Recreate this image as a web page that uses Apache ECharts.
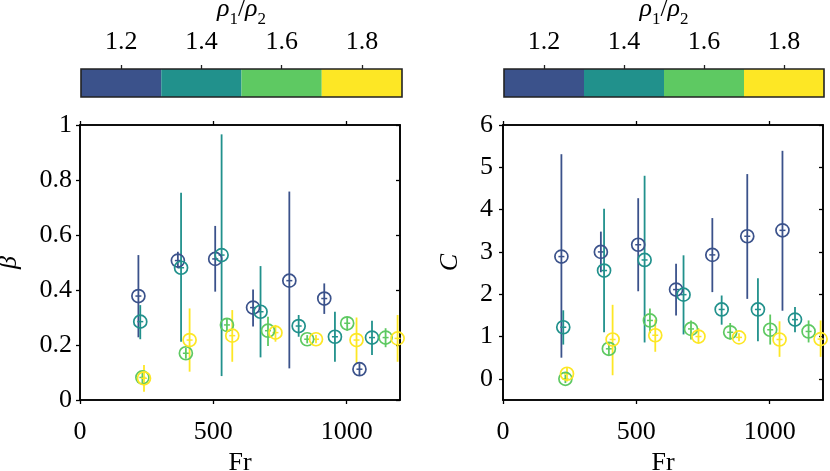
<!DOCTYPE html>
<html>
<head>
<meta charset="utf-8">
<script src="https://cdn.jsdelivr.net/npm/echarts@6/dist/echarts.min.js"></script>
<style>html,body{margin:0;padding:0;background:#fff}#c{width:830px;height:471px}</style>
</head>
<body>
<div id="c"></div>
<script>
// density-ratio bins of the colour bar
const ratioBins = [1.1, 1.3, 1.5, 1.7, 1.9];
const ratioTicks = [1.2, 1.4, 1.6, 1.8];

// Froude numbers per density-ratio group
const frG1 = [219, 367, 507, 649, 785, 916, 1048];
const frG2 = [226, 379, 531, 677, 820, 956, 1095];
const frG3 = [234, 397, 551, 705, 852, 1002, 1146];
const frG4 = [240, 411, 571, 733, 885, 1037, 1191];

// beta (left panel)
const betaG1   = [0.378, 0.507, 0.513, 0.336, 0.434, 0.369, 0.112];
const betaG1Lo = [0.228, 0.479, 0.394, 0.267, 0.115, 0.313, 0.088];
const betaG1Hi = [0.527, 0.539, 0.633, 0.402, 0.758, 0.424, 0.134];
const betaG2   = [0.285, 0.481, 0.527, 0.321, 0.269, 0.230, 0.227];
const betaG2Lo = [0.221, 0.212, 0.087, 0.155, 0.230, 0.139, 0.164];
const betaG2Hi = [0.345, 0.754, 0.966, 0.487, 0.309, 0.321, 0.288];
const betaG3   = [0.082, 0.170, 0.273, 0.252, 0.221, 0.279, 0.227];
const betaG3Lo = [0.060, 0.150, 0.248, 0.196, 0.206, 0.252, 0.192];
const betaG3Hi = [0.100, 0.190, 0.297, 0.303, 0.236, 0.303, 0.261];
const betaG4   = [0.079, 0.218, 0.234, 0.245, 0.221, 0.218, 0.224];
const betaG4Lo = [0.030, 0.103, 0.139, 0.212, 0.206, 0.131, 0.139];
const betaG4Hi = [0.127, 0.333, 0.327, 0.273, 0.236, 0.300, 0.309];

// C (right panel)
const cG1   = [2.89, 3.00, 3.17, 2.11, 2.93, 3.37, 3.51];
const cG1Lo = [0.50, 2.52, 2.07, 1.50, 2.05, 1.89, 1.61];
const cG1Hi = [5.31, 3.48, 4.27, 2.72, 3.80, 4.84, 5.39];
const cG2   = [1.22, 2.56, 2.81, 1.99, 1.64, 1.64, 1.40];
const cG2Lo = [0.81, 1.10, 0.86, 1.05, 1.28, 0.89, 1.10];
const cG2Hi = [1.62, 4.02, 4.80, 2.92, 1.97, 2.38, 1.70];
const cG3   = [0.00, 0.71, 1.38, 1.18, 1.10, 1.16, 1.12];
const cG3Lo = [-0.10, 0.55, 1.08, 0.93, 0.93, 0.81, 0.86];
const cG3Hi = [0.10, 0.87, 1.66, 1.38, 1.32, 1.52, 1.38];
const cG4   = [0.12, 0.93, 1.03, 1.00, 0.98, 0.93, 0.94];
const cG4Lo = [-0.06, 0.085, 0.64, 0.85, 0.89, 0.52, 0.52];
const cG4Hi = [0.28, 1.75, 1.40, 1.20, 1.08, 1.36, 1.38];

const frMax = 1200;
const frTicks = [0, 500, 1000];
const betaTicks = [0, 0.2, 0.4, 0.6, 0.8, 1];
const cTicks = [0, 1, 2, 3, 4, 5, 6];

const colors = ['#3b528b', '#21918c', '#5ec962', '#fde725'];
const FONT = 'Liberation Serif';
const FS = 26;

const frGroups = [frG1, frG2, frG3, frG4];
const betaGroups = [[betaG1, betaG1Lo, betaG1Hi], [betaG2, betaG2Lo, betaG2Hi], [betaG3, betaG3Lo, betaG3Hi], [betaG4, betaG4Lo, betaG4Hi]];
const cGroups = [[cG1, cG1Lo, cG1Hi], [cG2, cG2Lo, cG2Hi], [cG3, cG3Lo, cG3Hi], [cG4, cG4Lo, cG4Hi]];

function errRender(color) {
  return function (params, api) {
    const x = api.value(0), y = api.value(1), lo = api.value(2), hi = api.value(3);
    const a = api.coord([x, lo]), b = api.coord([x, hi]), c = api.coord([x, y]);
    return {
      type: 'group',
      children: [
        { type: 'line', shape: { x1: a[0], y1: a[1], x2: b[0], y2: b[1] }, style: { stroke: color, lineWidth: 1.8 } },
        { type: 'line', shape: { x1: c[0] - 3, y1: c[1], x2: c[0] + 3, y2: c[1] }, style: { stroke: color, lineWidth: 1.5 } }
      ]
    };
  };
}

const series = [];
function addPanel(groups, xi, yi) {
  groups.forEach(function (g, k) {
    const fr = frGroups[k];
    const data = fr.map(function (x, i) { return [x, g[0][i], g[1][i], g[2][i]]; });
    series.push({
      type: 'custom', xAxisIndex: xi, yAxisIndex: yi, renderItem: errRender(colors[k]),
      encode: { x: 0, y: [1, 2, 3] }, data: data, silent: true, z: 2
    });
    series.push({
      type: 'scatter', xAxisIndex: xi, yAxisIndex: yi, symbol: 'circle', symbolSize: 13,
      itemStyle: { color: 'rgba(0,0,0,0)', borderColor: colors[k], borderWidth: 1.7, opacity: 1 },
      data: data.map(function (d) { return [d[0], d[1]]; }), silent: true, z: 3
    });
  });
}
addPanel(betaGroups, 0, 0);
addPanel(cGroups, 2, 2);

function addColorbar(xi, yi) {
  const bins = [];
  for (let i = 0; i < ratioBins.length - 1; i++) bins.push([ratioBins[i], ratioBins[i + 1], i]);
  series.push({
    type: 'custom', xAxisIndex: xi, yAxisIndex: yi, silent: true, z: 2,
    encode: { x: [0, 1] }, data: bins,
    renderItem: function (params, api) {
      const p0 = api.coord([api.value(0), 1]), p1 = api.coord([api.value(1), 0]);
      return { type: 'rect', shape: { x: p0[0], y: p0[1], width: p1[0] - p0[0], height: p1[1] - p0[1] }, style: { fill: colors[api.value(2)] } };
    }
  });
  series.push({
    type: 'custom', xAxisIndex: xi, yAxisIndex: yi, silent: true, z: 3,
    encode: { x: [0, 1] }, data: [[ratioBins[0], ratioBins[ratioBins.length - 1]]],
    renderItem: function (params, api) {
      const p0 = api.coord([api.value(0), 1]), p1 = api.coord([api.value(1), 0]);
      return { type: 'rect', shape: { x: p0[0], y: p0[1], width: p1[0] - p0[0], height: p1[1] - p0[1] }, style: { fill: 'none', stroke: '#222', lineWidth: 1.6 } };
    }
  });
}
addColorbar(4, 4);
addColorbar(5, 5);

const axLine = { show: true, onZero: false, lineStyle: { color: '#000', width: 1.6 } };
const tickStyle = { color: '#000', width: 1.3 };
const lab = { color: '#000', fontFamily: FONT, fontSize: FS };
const ratioName = '{i|ρ}{s|1}{n|/}{i|ρ}{s|2}';
const ratioRich = {
  i: { fontFamily: FONT, fontStyle: 'italic', fontSize: FS, color: '#000' },
  n: { fontFamily: FONT, fontSize: FS, color: '#000' },
  s: { fontFamily: FONT, fontSize: 17, color: '#000', verticalAlign: 'bottom', padding: [0, 0, -6, 0] }
};

function frAxis(grid) {
  return [{
    type: 'value', gridIndex: grid, min: 0, max: frMax, position: 'bottom',
    axisLine: axLine, axisTick: { show: true, length: 4, customValues: frTicks, lineStyle: tickStyle },
    splitLine: { show: false }, axisLabel: Object.assign({ margin: 19, customValues: frTicks, formatter: function (v) { return String(v); } }, lab),
    name: 'Fr', nameLocation: 'middle', nameGap: 49, nameTextStyle: { fontFamily: FONT, fontSize: FS, color: '#000' }
  }, {
    type: 'value', gridIndex: grid, min: 0, max: frMax, position: 'top',
    axisLine: axLine, axisTick: { show: true, length: 4, customValues: frTicks, lineStyle: tickStyle },
    splitLine: { show: false }, axisLabel: { show: false }
  }];
}
function cbAxis(grid) {
  return {
    type: 'value', gridIndex: grid, min: ratioBins[0], max: ratioBins[ratioBins.length - 1], position: 'top',
    axisLine: { show: false, onZero: false },
    axisTick: { show: true, length: 4, customValues: ratioTicks, lineStyle: { color: '#222', width: 1.3 } },
    splitLine: { show: false },
    axisLabel: Object.assign({ margin: 14, customValues: ratioTicks, formatter: function (v) { return v.toFixed(1); } }, lab),
    name: ratioName, nameLocation: 'middle', nameGap: 47, nameTextStyle: { rich: ratioRich }
  };
}

const gridBase = { outerBoundsMode: 'none', containLabel: false };
const plotGrid = { show: true, borderColor: '#000', borderWidth: 1.6, backgroundColor: 'transparent' };
const option = {
  animation: false,
  backgroundColor: '#fff',
  grid: [
    Object.assign({ left: 80, top: 125, width: 320, height: 275 }, gridBase, plotGrid),
    Object.assign({ left: 503, top: 125, width: 320, height: 275 }, gridBase, plotGrid),
    Object.assign({ left: 81, top: 69, width: 321, height: 28 }, gridBase),
    Object.assign({ left: 504, top: 69, width: 320, height: 28 }, gridBase)
  ],
  xAxis: [].concat(frAxis(0), frAxis(1), [cbAxis(2), cbAxis(3)]),
  yAxis: [
    {
      type: 'value', gridIndex: 0, min: 0, max: 1, position: 'left',
      axisLine: axLine, axisTick: { show: true, length: 4, customValues: betaTicks, lineStyle: tickStyle },
      splitLine: { show: false },
      axisLabel: Object.assign({ margin: 8, customValues: betaTicks, formatter: function (v) { return v === 0 || v === 1 ? String(v) : v.toFixed(1); } }, lab),
      name: 'β', nameLocation: 'middle', nameGap: 58, nameTextStyle: { fontFamily: FONT, fontStyle: 'italic', fontSize: FS, color: '#000' }
    },
    {
      type: 'value', gridIndex: 0, min: 0, max: 1, position: 'right',
      axisLine: axLine, axisTick: { show: true, inside: true, length: 4, customValues: betaTicks, lineStyle: tickStyle },
      splitLine: { show: false }, axisLabel: { show: false }
    },
    {
      type: 'value', gridIndex: 1, min: -0.5, max: 6, position: 'left',
      axisLine: axLine, axisTick: { show: true, length: 4, customValues: cTicks, lineStyle: tickStyle },
      splitLine: { show: false }, axisLabel: Object.assign({ margin: 10, customValues: cTicks }, lab),
      name: 'C', nameLocation: 'middle', nameGap: 40, nameTextStyle: { fontFamily: FONT, fontStyle: 'italic', fontSize: FS, color: '#000' }
    },
    {
      type: 'value', gridIndex: 1, min: -0.5, max: 6, position: 'right',
      axisLine: axLine, axisTick: { show: true, inside: true, length: 4, customValues: cTicks, lineStyle: tickStyle },
      splitLine: { show: false }, axisLabel: { show: false }
    },
    { type: 'value', gridIndex: 2, min: 0, max: 1, show: false },
    { type: 'value', gridIndex: 3, min: 0, max: 1, show: false }
  ],
  series: series
};

const chart = echarts.init(document.getElementById('c'), null, { renderer: 'canvas' });
chart.setOption(option);
</script>
</body>
</html>
